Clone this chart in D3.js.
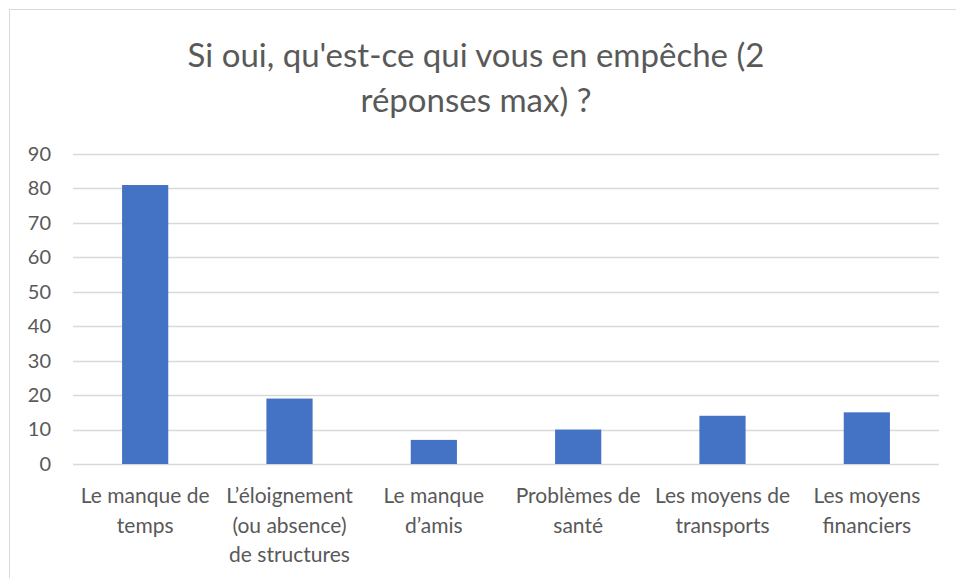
<!DOCTYPE html>
<html>
<head>
<meta charset="utf-8">
<script src="https://cdn.jsdelivr.net/npm/d3@7"></script>
<style>
  body { margin: 0; background: #fff; }
  text { font-family: Lato, "Noto Sans", sans-serif; }
</style>
</head>
<body>
<div id="chart"></div>
<script>
// dimensions
var chart_width = 956;
var chart_height = 578;

// data
var categories = ["Le manque de temps", "L\u2019éloignement (ou absence) de structures", "Le manque d\u2019amis",
                  "Problèmes de santé", "Les moyens de transports", "Les moyens financiers"];
var labelLines = [["Le manque de", "temps"], ["L\u2019éloignement", "(ou absence)", "de structures"],
                  ["Le manque", "d\u2019amis"], ["Problèmes de", "santé"],
                  ["Les moyens de", "transports"], ["Les moyens", "financiers"]];
var values = [81, 19, 7, 10, 14, 15];
var yTicks = [0, 10, 20, 30, 40, 50, 60, 70, 80, 90];
var titleLines = ["Si oui, qu'est-ce qui vous en empêche (2", "réponses max) ?"];

var margin = {left: 73, right: 17, top: 154, bottom: 114};

var svg = d3.select('#chart')
            .append('svg')
            .attr('width', chart_width)
            .attr('height', chart_height);

// chart frame
svg.append('rect')
   .attr('x', 9.5)
   .attr('y', 9.5)
   .attr('width', chart_width + 20)
   .attr('height', chart_height + 20)
   .attr('fill', '#fff')
   .attr('stroke', '#d9d9d9')
   .attr('stroke-width', 1);

var x = d3.scaleBand()
          .domain(categories)
          .range([margin.left, chart_width - margin.right])
          .paddingInner(0.68)
          .paddingOuter(0.34);

var y = d3.scaleLinear()
          .domain([0, 90])
          .range([chart_height - margin.bottom, margin.top]);

// gridlines
svg.append('g')
   .selectAll('line')
   .data(yTicks)
   .enter()
   .append('line')
   .attr('x1', margin.left)
   .attr('x2', chart_width - margin.right)
   .attr('y1', function(d){ return Math.round(y(d)) + 0.5; })
   .attr('y2', function(d){ return Math.round(y(d)) + 0.5; })
   .attr('stroke', '#d9d9d9')
   .attr('stroke-width', 1.3);

// y axis labels
var yAxis = d3.axisLeft(y).tickValues(yTicks).tickSize(0).tickPadding(0);
var gy = svg.append('g')
   .attr('transform', 'translate(' + 51 + ',0)')
   .call(yAxis);
gy.select('.domain').remove();
gy.selectAll('text')
  .attr('font-size', '20px')
  .attr('fill', '#595959')
  .style('font-family', 'Lato, "Noto Sans", sans-serif');

// bars
svg.selectAll('rect.bar')
   .data(values)
   .enter()
   .append('rect')
   .attr('class', 'bar')
   .attr('x', function(d, i){ return x(categories[i]); })
   .attr('width', x.bandwidth())
   .attr('y', function(d){ return y(d); })
   .attr('height', function(d){ return y(0) - y(d); })
   .attr('fill', '#4472c4');

// category labels
var cat = svg.append('g')
   .selectAll('text')
   .data(labelLines)
   .enter()
   .append('text')
   .attr('text-anchor', 'middle')
   .attr('font-size', '21px')
   .attr('fill', '#595959')
   .attr('x', function(d, i){ return x(categories[i]) + x.bandwidth() / 2; });
cat.selectAll('tspan')
   .data(function(d){ return d; })
   .enter()
   .append('tspan')
   .attr('x', function(){ return d3.select(this.parentNode).attr('x'); })
   .attr('y', function(d, j){ return 503 + j * 29.5; })
   .text(function(d){ return d; });

// title
svg.append('g')
   .selectAll('text')
   .data(titleLines)
   .enter()
   .append('text')
   .attr('x', 476)
   .attr('y', function(d, i){ return 67 + i * 45; })
   .attr('text-anchor', 'middle')
   .attr('font-size', '33px')
   .attr('fill', '#595959')
   .text(function(d){ return d; });
</script>
</body>
</html>
